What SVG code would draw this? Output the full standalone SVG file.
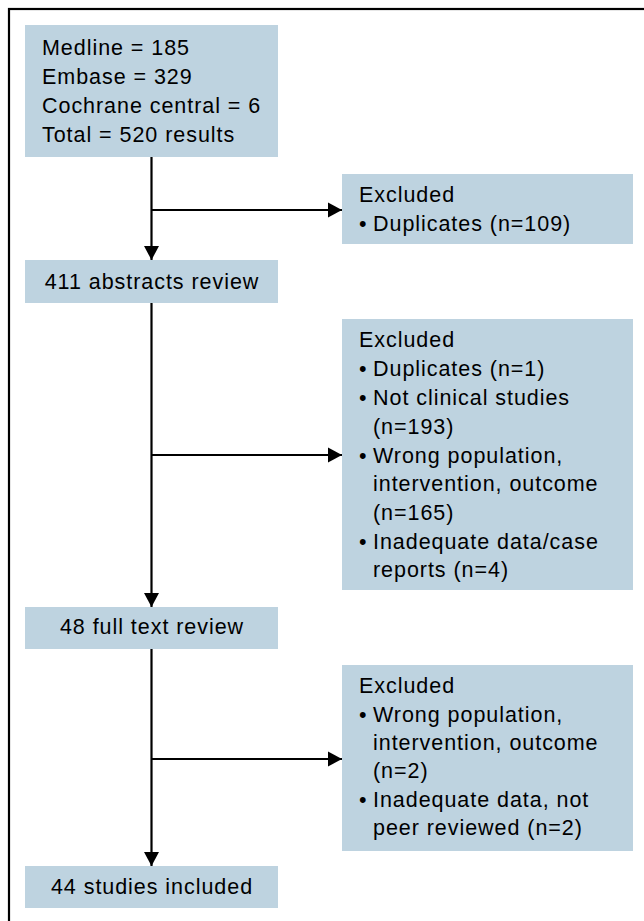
<svg xmlns="http://www.w3.org/2000/svg" width="644" height="921" viewBox="0 0 644 921">
<style>
.box{fill:#bed3e0;}
.t{font-family:"Liberation Sans",Arial,sans-serif;font-size:21.5px;letter-spacing:0.95px;fill:#000;}
.c{text-anchor:middle;}
.line{stroke:#000;stroke-width:2.2;fill:none;}
</style>
<defs>
<marker id="ah" markerUnits="userSpaceOnUse" markerWidth="16" markerHeight="16" viewBox="0 0 16 16" refX="14" refY="8" orient="auto">
<path d="M0,0.5 L14,8 L0,15.5 Z" fill="#000"/>
</marker>
</defs>
<rect x="9" y="9" width="700" height="1000" fill="none" stroke="#000" stroke-width="2.2"/>
<g id="connectors">
<path class="line" d="M151.5,157 V260" marker-end="url(#ah)"/>
<path class="line" d="M151.5,210 H342" marker-end="url(#ah)"/>
<path class="line" d="M151.5,303 V607" marker-end="url(#ah)"/>
<path class="line" d="M151.5,455 H342" marker-end="url(#ah)"/>
<path class="line" d="M151.5,649 V866" marker-end="url(#ah)"/>
<path class="line" d="M151.5,759 H342" marker-end="url(#ah)"/>
</g>
<g id="search">
<rect class="box" x="25" y="25" width="253" height="132"/>
<text class="t" x="42" y="55">Medline = 185</text>
<text class="t" x="42" y="84">Embase = 329</text>
<text class="t" x="42" y="113">Cochrane central = 6</text>
<text class="t" x="42" y="142">Total = 520 results</text>
</g>
<g id="abstracts">
<rect class="box" x="25" y="260" width="253" height="43"/>
<text class="t c" x="152" y="289">411 abstracts review</text>
</g>
<g id="fulltext">
<rect class="box" x="25" y="607" width="253" height="42"/>
<text class="t c" x="152" y="634">48 full text review</text>
</g>
<g id="included">
<rect class="box" x="25" y="866" width="253" height="42"/>
<text class="t c" x="152" y="894">44 studies included</text>
</g>
<g id="excluded1">
<rect class="box" x="342" y="174" width="291" height="70"/>
<text class="t" x="359" y="202">Excluded</text>
<text class="t" x="359" y="231">•</text>
<text class="t" x="373" y="231">Duplicates (n=109)</text>
</g>
<g id="excluded2">
<rect class="box" x="342" y="319" width="291" height="271"/>
<text class="t" x="359" y="347">Excluded</text>
<text class="t" x="359" y="376">•</text>
<text class="t" x="373" y="376">Duplicates (n=1)</text>
<text class="t" x="359" y="405">•</text>
<text class="t" x="373" y="405">Not clinical studies</text>
<text class="t" x="373" y="434">(n=193)</text>
<text class="t" x="359" y="463">•</text>
<text class="t" x="373" y="463">Wrong population,</text>
<text class="t" x="373" y="491">intervention, outcome</text>
<text class="t" x="373" y="520">(n=165)</text>
<text class="t" x="359" y="549">•</text>
<text class="t" x="373" y="549">Inadequate data/case</text>
<text class="t" x="373" y="577">reports (n=4)</text>
</g>
<g id="excluded3">
<rect class="box" x="342" y="665" width="291" height="186"/>
<text class="t" x="359" y="693">Excluded</text>
<text class="t" x="359" y="722">•</text>
<text class="t" x="373" y="722">Wrong population,</text>
<text class="t" x="373" y="750">intervention, outcome</text>
<text class="t" x="373" y="778">(n=2)</text>
<text class="t" x="359" y="807">•</text>
<text class="t" x="373" y="807">Inadequate data, not</text>
<text class="t" x="373" y="835">peer reviewed (n=2)</text>
</g>
</svg>
